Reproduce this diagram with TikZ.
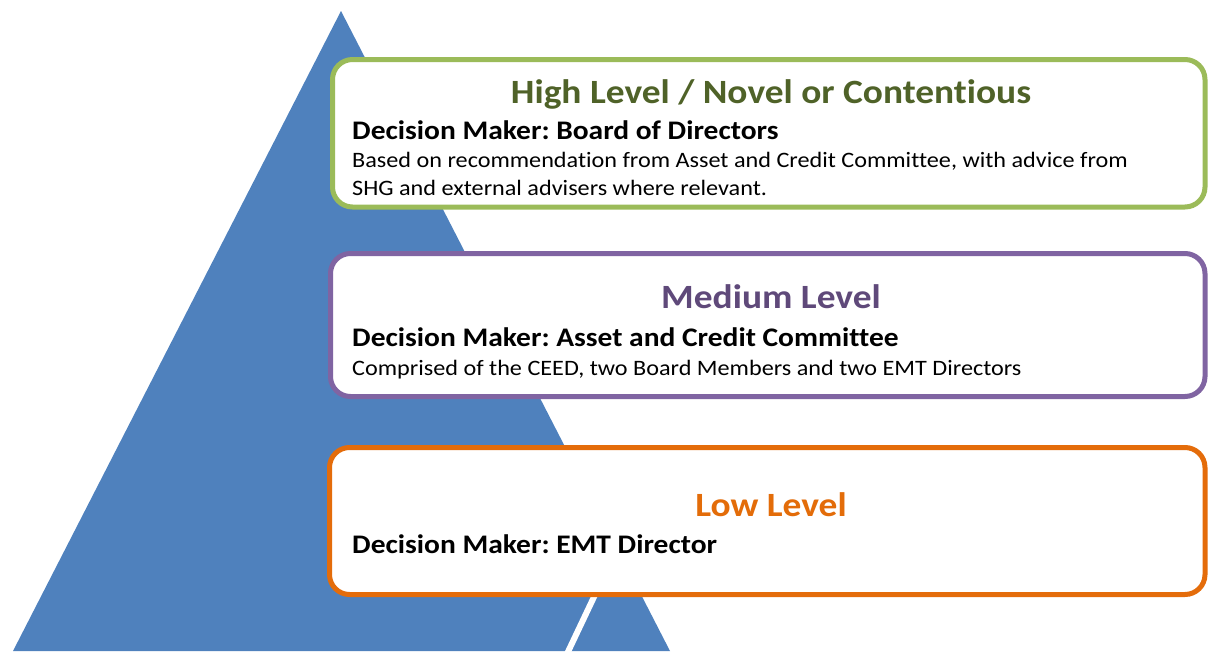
\documentclass[tikz,border=0pt]{standalone}
\usepackage{fontspec}
\setmainfont{Carlito}[FakeStretch=1.1, Ligatures=NoCommon]
\frenchspacing
\definecolor{pyrblue}{HTML}{4F81BD}
\definecolor{highline}{HTML}{9BBB59}
\definecolor{hightext}{HTML}{4F6228}
\definecolor{medline}{HTML}{8064A2}
\definecolor{medtext}{HTML}{5F497A}
\definecolor{lowline}{HTML}{E46C0A}
\definecolor{lowtext}{HTML}{E36C09}
\tikzset{
	levelbox/.style={line width=5pt, fill=white, rounded corners=20pt},
	leveltitle/.style={font=\bfseries\fontsize{34}{40}\selectfont, anchor=base, inner sep=0pt},
	maker/.style={font=\bfseries\fontsize{26.8}{32}\selectfont, anchor=base west, inner sep=0pt},
	note/.style={font=\fontsize{22}{27}\selectfont, anchor=base west, inner sep=0pt}
}

\begin{document}
\begin{tikzpicture}[x=1pt, y=-1pt]
		%%%%% START %%%%%
		\useasboundingbox (0, 0) rectangle (1208, 651);
		
		\fill[pyrblue] (341, 11) -- (670, 651) -- (13, 651) -- cycle;
		\draw[white, line width=6pt] (602, 580) -- (566, 656);
		
		\draw[levelbox, draw=highline] (332.5, 59.5) rectangle (1205, 207);
		\draw[levelbox, draw=medline] (330.5, 253.5) rectangle (1205, 396.5);
		\draw[levelbox, draw=lowline] (329.5, 447.5) rectangle (1205, 594.5);
		
		\node[leveltitle, text=hightext] (hightitle) at (771, 103) {High Level / Novel or Contentious};
		\node[maker] (highmaker) at (352, 139) {Decision Maker: Board of Directors};
		\node[note] (highnote) at (352, 167) {Based on recommendation from Asset and Credit Committee, with advice from};
		\node[note] (highnotetwo) at (352, 195) {SHG and external advisers where relevant.};
		
		\node[leveltitle, text=medtext] (medtitle) at (771, 308) {Medium Level};
		\node[maker] (medmaker) at (352, 346) {Decision Maker: Asset and Credit Committee};
		\node[note] (mednote) at (352, 375) {Comprised of the CEED, two Board Members and two EMT Directors};
		
		\node[leveltitle, text=lowtext] (lowtitle) at (771, 516) {Low Level};
		\node[maker] (lowmaker) at (352, 553) {Decision Maker: EMT Director};
		%%%%% END %%%%%
\end{tikzpicture}
\end{document}
